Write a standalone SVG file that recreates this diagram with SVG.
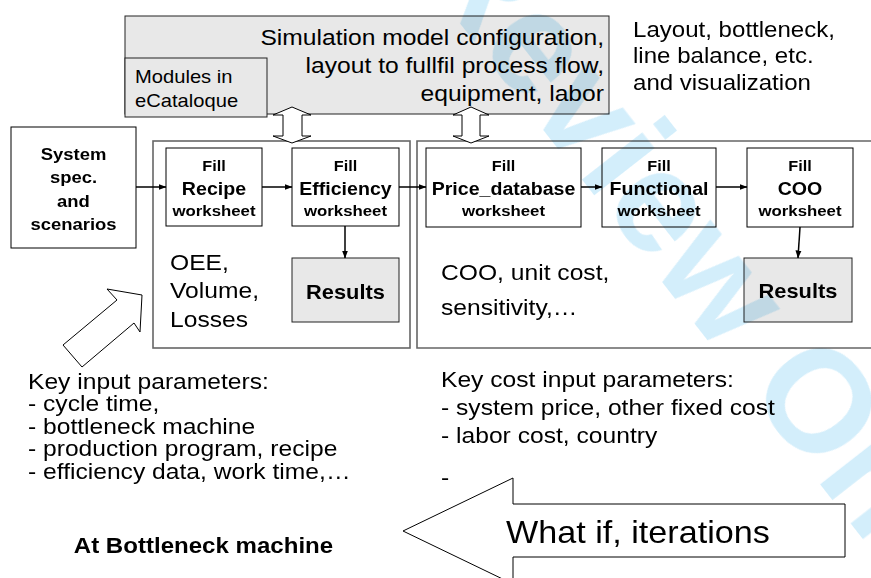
<svg xmlns="http://www.w3.org/2000/svg" width="871" height="578" viewBox="0 0 871 578">
<defs>
<marker id="ah" markerWidth="8" markerHeight="8" refX="7.5" refY="4" orient="auto" markerUnits="userSpaceOnUse"><path d="M0,1 L8,4 L0,7 z" fill="#000"/></marker>
</defs>
<style>
text{font-family:"Liberation Sans",Arial,Helvetica,sans-serif;fill:#000}
.s{transform-box:fill-box;transform:scaleX(1.12)}
.l{transform-origin:left center}
.m{text-anchor:middle;transform-origin:center}
.r{text-anchor:end;transform-origin:right center}
.b{font-weight:bold}
.box{fill:none;stroke:#000;stroke-width:1}
.panel{fill:none;stroke:#666;stroke-width:1.6}
.grey{fill:#e8e8e8;stroke:#222;stroke-width:1}
.conn{stroke:#000;stroke-width:1.5;fill:none;marker-end:url(#ah)}
.hollow{fill:#fff;stroke:#000;stroke-width:1}
.wm{font-weight:bold;fill:#d3eefb}
#watermark{mix-blend-mode:multiply}
</style>
<g id="simconfig">
<rect class="grey" x="125" y="16" width="484" height="98"/>
<text class="s r" font-size="22" x="604" y="45">Simulation model configuration,</text>
<text class="s r" font-size="22" x="604" y="73">layout to fullfil process flow,</text>
<text class="s r" font-size="22" x="604" y="101">equipment, labor</text>
</g>
<g id="modules">
<rect class="grey" x="125" y="58" width="142" height="59"/>
<text class="s l" font-size="18" x="135" y="83">Modules in</text>
<text class="s l" font-size="18" x="135" y="107">eCataloque</text>
</g>
<g id="layoutnote">
<text class="s l" font-size="21.5" x="633" y="37">Layout, bottleneck,</text>
<text class="s l" font-size="21.5" x="633" y="63.5">line balance, etc.</text>
<text class="s l" font-size="21.5" x="633" y="90">and visualization</text>
</g>
<g id="panel-left">
<rect class="panel" x="153" y="141" width="257" height="207"/>
<text class="s l" font-size="22" x="170" y="270">OEE,</text>
<text class="s l" font-size="22" x="170" y="298.5">Volume,</text>
<text class="s l" font-size="22" x="170" y="327">Losses</text>
</g>
<g id="panel-right">
<path class="panel" d="M871,141 H417 V348 H871"/>
<text class="s l" font-size="22" x="441" y="280">COO, unit cost,</text>
<text class="s l" font-size="22" x="441" y="315">sensitivity,…</text>
</g>
<g id="system">
<rect class="box" x="11" y="127" width="125" height="121"/>
<text class="s m b" font-size="16.5" x="73.5" y="160">System</text>
<text class="s m b" font-size="16.5" x="73.5" y="183.5">spec.</text>
<text class="s m b" font-size="16.5" x="73.5" y="207">and</text>
<text class="s m b" font-size="16.5" x="73.5" y="230.5">scenarios</text>
</g>
<g id="recipe">
<rect class="box" x="166" y="148" width="96" height="78"/>
<text class="s m b" font-size="14.5" x="214" y="171">Fill</text>
<text class="s m b" font-size="17.5" x="214" y="195">Recipe</text>
<text class="s m b" font-size="15" x="214" y="216.5">worksheet</text>
</g>
<g id="efficiency">
<rect class="box" x="292" y="148" width="107" height="78"/>
<text class="s m b" font-size="14.5" x="345.5" y="171">Fill</text>
<text class="s m b" font-size="17.5" x="345.5" y="195">Efficiency</text>
<text class="s m b" font-size="15" x="345.5" y="216.5">worksheet</text>
</g>
<g id="results-left">
<rect class="grey" x="292" y="258" width="107" height="64"/>
<text class="s m b" font-size="19.5" x="345.5" y="299">Results</text>
</g>
<g id="price">
<rect class="box" x="426" y="148" width="155" height="79"/>
<text class="s m b" font-size="14.5" x="503.5" y="171">Fill</text>
<text class="s m b" font-size="17.5" x="503.5" y="195">Price_database</text>
<text class="s m b" font-size="15" x="503.5" y="216.5">worksheet</text>
</g>
<g id="functional">
<rect class="box" x="602" y="148" width="114" height="79"/>
<text class="s m b" font-size="14.5" x="659" y="171">Fill</text>
<text class="s m b" font-size="17.5" x="659" y="195">Functional</text>
<text class="s m b" font-size="15" x="659" y="216.5">worksheet</text>
</g>
<g id="coo">
<rect class="box" x="747" y="148" width="106" height="79"/>
<text class="s m b" font-size="14.5" x="800" y="171">Fill</text>
<text class="s m b" font-size="17.5" x="800" y="195">COO</text>
<text class="s m b" font-size="15" x="800" y="216.5">worksheet</text>
</g>
<g id="results-right">
<rect class="grey" x="744" y="258" width="108" height="64"/>
<text class="s m b" font-size="19.5" x="798" y="298">Results</text>
</g>
<g id="key-input">
<text class="s l" font-size="22" x="28" y="389">Key input parameters:</text>
<text class="s l" font-size="22" x="28" y="411.5">- cycle time,</text>
<text class="s l" font-size="22" x="28" y="434">- bottleneck machine</text>
<text class="s l" font-size="22" x="28" y="456.5">- production program, recipe</text>
<text class="s l" font-size="22" x="28" y="479">- efficiency data, work time,…</text>
<text class="s m b" font-size="21.5" x="203.5" y="553">At Bottleneck machine</text>
</g>
<g id="key-cost">
<text class="s l" font-size="22" x="441" y="387">Key cost input parameters:</text>
<text class="s l" font-size="22" x="441" y="415">- system price, other fixed cost</text>
<text class="s l" font-size="22" x="441" y="443">- labor cost, country</text>
<text class="s l" font-size="22" x="441" y="485">-</text>
</g>
<g id="whatif">
<polygon class="hollow" points="403,531 513,478 513,504 845,504 845,557 513,557 513,584"/>
<text class="s l" font-size="30.5" x="506" y="543">What if, iterations</text>
</g>
<g id="connectors">
<path class="conn" d="M136,187 H166"/>
<path class="conn" d="M262,187 H292"/>
<path class="conn" d="M399,187 H426"/>
<path class="conn" d="M581,187 H602"/>
<path class="conn" d="M716,187 H747"/>
<path class="conn" d="M345,226 V258"/>
<path class="conn" d="M800,227 L798,258"/>
<polygon class="hollow" points="292,107 311,115 302,115 302,136 311,136 292,143 273,136 283,136 283,115 273,115"/>
<polygon class="hollow" points="471,107 489,115 480,115 480,136 489,136 471,143 453,136 462,136 462,115 453,115"/>
<polygon class="hollow" points="107,289 142,295 140,332 134,323 82,367 63,345 117,300"/>
</g>
<g id="watermark" transform="translate(412,-38) rotate(52)">
<text class="wm" x="0" y="0" font-size="145">Review Only</text>
</g>
</svg>
